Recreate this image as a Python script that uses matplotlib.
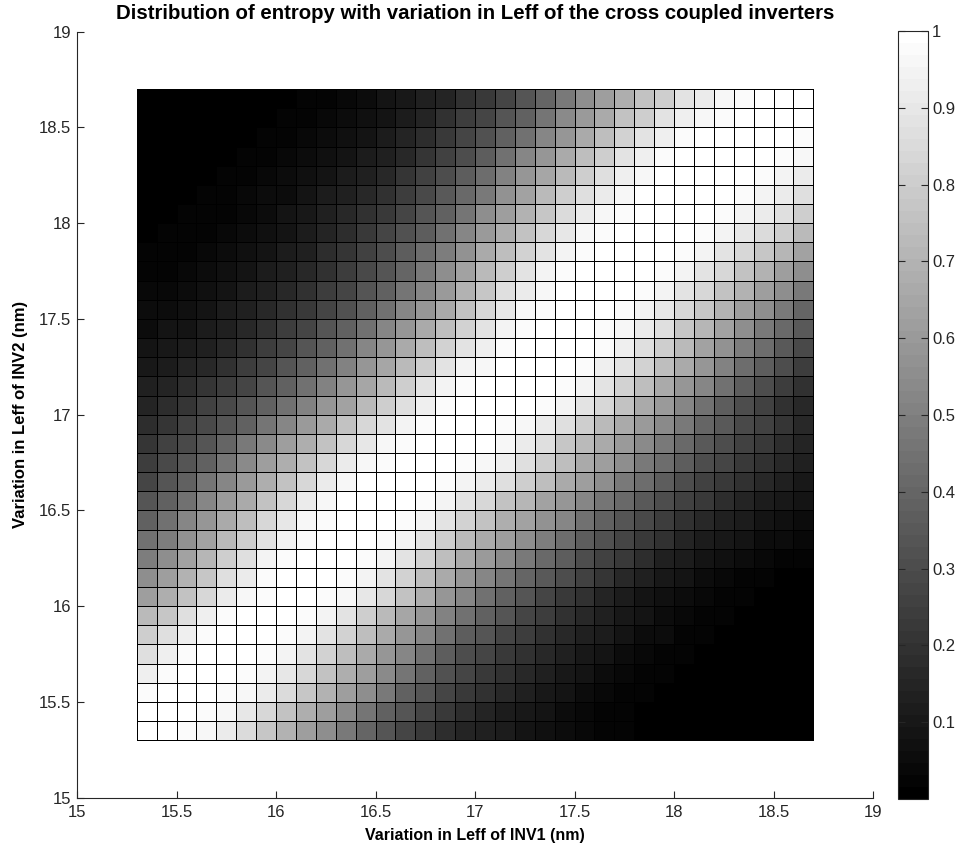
import numpy as np
import matplotlib
matplotlib.use("Agg")
import matplotlib.pyplot as plt

plt.rcParams['font.family'] = ['Liberation Sans', 'DejaVu Sans']

# Cell edges of the Leff sweep (nm)
inv1_edges = np.linspace(15.3, 18.7, 35)
inv2_edges = np.linspace(15.3, 18.7, 35)

# Entropy (percent), one list per INV2 row, listed from the top row (18.6-18.7 nm) down
entropy_rows_top_down = [
    [0,0,0,0,0,0,0,1,2,3,4,6,8,10,13,15,19,23,28,34,40,47,55,61,68,75,81,88,92,96,98,99,100,100],
    [0,0,0,0,0,0,1,2,3,4,5,7,9,12,15,19,24,27,33,39,46,54,60,67,75,81,88,93,96,98,99,100,100,99],
    [0,0,0,0,0,1,2,3,4,5,7,9,11,15,18,22,27,32,38,45,53,59,66,74,82,88,93,97,99,100,100,100,99,98],
    [0,0,0,0,1,2,2,4,5,7,9,11,14,17,21,26,31,37,44,52,58,66,74,81,88,93,97,99,100,100,100,99,98,96],
    [0,0,0,1,2,2,4,5,7,9,11,14,17,21,25,30,36,43,51,58,65,73,81,87,93,96,99,100,100,100,99,98,95,91],
    [0,0,1,2,2,4,5,6,8,11,13,16,20,24,29,35,42,48,57,64,72,80,86,92,96,99,100,100,100,99,98,95,91,86],
    [0,1,2,2,3,4,6,8,10,13,16,19,23,28,33,39,46,55,62,69,78,85,91,96,98,100,100,100,99,98,95,91,86,80],
    [1,2,2,3,4,5,7,9,12,15,18,22,27,32,37,45,52,60,68,76,84,90,96,98,100,100,100,99,98,95,90,85,80,73],
    [2,2,3,4,5,7,9,11,14,18,21,25,31,36,43,49,57,66,74,82,89,95,98,99,100,100,99,98,94,89,84,77,71,64],
    [2,3,4,5,7,9,11,14,17,20,24,29,34,40,47,55,63,72,81,88,94,98,99,100,100,99,98,94,89,83,76,69,62,55],
    [4,4,5,7,9,11,13,16,20,24,28,33,38,46,53,60,69,77,86,92,96,99,100,100,99,98,95,89,84,76,69,62,55,48],
    [5,6,7,9,11,13,16,20,23,27,32,38,45,52,58,66,75,83,90,96,98,100,100,99,98,95,90,84,77,69,62,55,48,40],
    [6,8,9,11,14,16,20,24,28,33,38,45,52,59,66,74,82,88,94,98,99,100,100,98,96,91,86,78,71,63,56,48,42,35],
    [8,10,12,14,17,20,24,28,33,38,45,52,58,66,74,82,89,93,97,99,100,100,99,97,93,87,80,72,64,57,49,43,35,29],
    [10,12,15,17,20,24,28,33,38,44,51,58,65,73,81,88,94,96,99,100,100,99,97,93,88,82,74,66,58,51,43,36,30,24],
    [13,15,18,21,24,28,33,38,45,51,58,65,73,81,88,94,98,99,100,100,99,98,94,89,82,74,66,59,52,44,36,30,24,20],
    [15,18,21,25,29,33,38,45,51,58,64,72,80,87,93,97,99,100,100,99,98,95,89,83,76,67,60,52,44,36,30,25,20,16],
    [18,21,25,29,34,39,46,53,60,67,75,83,89,95,98,99,100,100,98,96,91,86,80,73,66,60,54,47,40,35,29,25,21,17],
    [21,25,29,34,40,47,54,61,68,76,84,90,96,98,100,100,100,99,96,92,86,78,73,67,60,54,47,42,35,30,26,22,18,15],
    [24,29,34,39,46,54,61,68,76,84,91,96,98,100,100,99,98,96,93,87,81,74,67,61,55,48,43,36,31,27,23,19,16,13],
    [28,33,39,46,53,60,68,76,84,91,96,99,100,100,99,98,95,91,86,81,74,67,61,55,48,43,36,31,26,22,19,16,13,10],
    [33,38,45,53,60,67,76,84,91,96,99,100,100,99,98,94,88,83,76,71,64,58,53,46,41,35,30,26,22,18,15,12,10,8],
    [38,44,52,59,66,74,83,90,96,98,100,100,99,98,94,88,82,75,68,63,57,52,45,39,34,29,24,20,17,14,11,9,7,6],
    [44,49,57,64,73,81,89,95,98,100,100,99,98,94,88,81,73,66,61,55,49,43,37,32,27,23,19,15,12,10,8,6,5,4],
    [49,56,63,71,80,87,94,98,99,100,99,98,94,88,82,74,66,60,54,48,42,36,31,26,22,18,14,11,9,7,5,4,3,2],
    [56,62,69,77,86,92,97,99,100,100,98,95,89,82,74,66,59,53,46,40,35,30,25,21,17,13,10,8,6,4,3,2,1,1],
    [62,68,76,84,91,96,98,100,100,98,96,90,84,76,68,58,52,45,38,33,28,23,19,15,12,9,7,5,4,3,2,1,1,0],
    [72,78,86,93,98,100,100,99,98,94,88,81,73,65,58,51,44,38,33,28,24,20,16,13,10,8,6,4,3,2,1,1,0,0],
    [80,87,93,98,100,100,99,98,94,88,82,74,66,59,52,44,37,33,28,24,20,16,13,11,8,6,5,3,2,1,1,0,0,0],
    [86,93,98,100,100,99,98,94,88,82,74,66,59,52,44,37,31,28,23,19,16,13,10,8,6,4,3,2,1,1,0,0,0,0],
    [93,98,100,100,100,98,95,90,84,76,68,61,54,46,38,32,27,23,19,16,13,10,8,6,4,3,2,1,1,0,0,0,0,0],
    [97,99,100,100,98,96,91,85,77,69,62,55,47,39,33,27,22,19,16,13,10,8,6,4,3,2,1,1,0,0,0,0,0,0],
    [99,100,100,98,96,90,84,76,68,61,54,46,39,33,27,22,18,15,12,10,8,6,4,3,2,1,1,0,0,0,0,0,0,0],
    [100,100,98,96,91,85,77,69,62,55,47,40,34,28,23,18,15,13,11,9,7,5,4,3,2,1,1,0,0,0,0,0,0,0],
]

axis_ticks = [15, 15.5, 16, 16.5, 17, 17.5, 18, 18.5, 19]
axis_tick_labels = ['15', '15.5', '16', '16.5', '17', '17.5', '18', '18.5', '19']
cbar_ticks = [0.1, 0.2, 0.3, 0.4, 0.5, 0.6, 0.7, 0.8, 0.9, 1.0]
cbar_tick_labels = ['0.1', '0.2', '0.3', '0.4', '0.5', '0.6', '0.7', '0.8', '0.9', '1']

title_text = 'Distribution of entropy with variation in Leff of the cross coupled inverters'
xlabel_text = 'Variation in Leff of INV1 (nm)'
ylabel_text = 'Variation in Leff of INV2 (nm)'

entropy = np.flipud(np.array(entropy_rows_top_down, dtype=float)) / 100.0

W, H = 959, 851
fig = plt.figure(figsize=(W / 100, H / 100), dpi=100)
fig.patch.set_facecolor('white')

ink = '#262626'
ax = fig.add_axes([77 / W, 1 - 797.7 / H, 796 / W, 766 / H])
cmap = plt.get_cmap('gray', 64)
mesh = ax.pcolormesh(inv1_edges, inv2_edges, entropy, cmap=cmap, vmin=0, vmax=1,
                     edgecolors='black', linewidth=0.45, shading='flat')

ax.set_xlim(15, 19)
ax.set_ylim(15, 19)
ax.set_xticks(axis_ticks)
ax.set_xticklabels(axis_tick_labels)
ax.set_yticks(axis_ticks)
ax.set_yticklabels(axis_tick_labels)
ax.tick_params(direction='in', length=5, width=0.8, color=ink, labelcolor=ink,
               labelsize=12, pad=4)
ax.tick_params(axis='x', pad=5)
for side in ('top', 'right'):
    ax.spines[side].set_visible(False)
for side in ('left', 'bottom'):
    ax.spines[side].set_color(ink)
    ax.spines[side].set_linewidth(0.8)

ax.set_title(title_text, fontsize=14.7, fontweight='bold', pad=9)
ax.set_xlabel(xlabel_text, fontsize=11.5, fontweight='bold', labelpad=6)
ax.set_ylabel(ylabel_text, fontsize=12, fontweight='bold', labelpad=8)

cax = fig.add_axes([898 / W, 1 - 799 / H, 30 / W, 768 / H])
cb = fig.colorbar(mesh, cax=cax, ticks=cbar_ticks)
cb.ax.set_yticklabels(cbar_tick_labels)
cb.ax.tick_params(direction='in', left=True, right=True, labelleft=False,
                  labelright=True, length=5, width=0.8, color=ink,
                  labelcolor=ink, labelsize=12, pad=3)
cb.outline.set_linewidth(0.8)
cb.outline.set_edgecolor(ink)

fig.savefig('out.png', dpi=100, facecolor='white')
